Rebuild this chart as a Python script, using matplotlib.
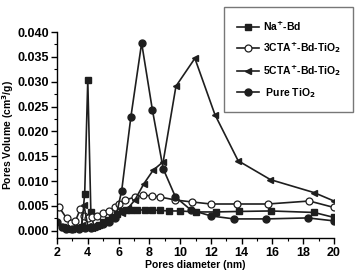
import matplotlib
matplotlib.use("Agg")
import matplotlib.pyplot as plt
from matplotlib.ticker import MultipleLocator

# Pore size distribution (pore diameter in nm, pore volume in cm3/g)
na_x = [2.4, 2.7, 3.0, 3.3, 3.6, 3.8, 4.0, 4.2, 4.4, 4.7, 5.0, 5.3, 5.6, 5.9,
        6.2, 6.5, 6.8, 7.2, 7.7, 8.2, 8.7, 9.3, 10.0, 11.0, 12.3, 13.8, 15.9,
        18.7, 20.0]
na_y = [0.0007, 0.0006, 0.0004, 0.0005, 0.0008, 0.0075, 0.0303, 0.0038,
        0.0008, 0.0012, 0.0017, 0.0022, 0.0028, 0.0034, 0.0039, 0.0042,
        0.0042, 0.0042, 0.0042, 0.0042, 0.0041, 0.0040, 0.0040, 0.0038,
        0.0038, 0.0039, 0.0040, 0.0037, 0.0027]

cta3_x = [2.15, 2.63, 2.9, 3.2, 3.5, 3.75, 4.0, 4.3, 4.6, 5.0, 5.4, 5.8, 6.0,
          6.4, 7.1, 7.6, 8.2, 8.7, 9.7, 10.8, 12.0, 13.7, 15.7, 18.4, 20.0]
cta3_y = [0.0047, 0.0025, 0.0016, 0.0020, 0.0043, 0.0030, 0.0025, 0.0028,
          0.0030, 0.0035, 0.0040, 0.0048, 0.0055, 0.0062, 0.0068, 0.0072,
          0.0070, 0.0068, 0.0062, 0.0058, 0.0054, 0.0054, 0.0054, 0.0060,
          0.0047]

cta5_x = [2.3, 2.6, 3.0, 3.3, 3.6, 3.75, 4.0, 4.3, 4.6, 5.0, 5.4, 5.8, 6.2,
          6.6, 7.06, 7.65, 8.25, 8.9, 9.73, 10.96, 12.26, 13.77, 15.87,
          18.7, 20.0]
cta5_y = [0.0008, 0.0005, 0.0004, 0.0008, 0.0012, 0.0052, 0.0010, 0.0006,
          0.0010, 0.0015, 0.0020, 0.0027, 0.0035, 0.0045, 0.0062, 0.0095,
          0.0122, 0.0139, 0.0291, 0.0347, 0.0234, 0.0141, 0.0103, 0.0077,
          0.0060]

tio2_x = [2.0, 2.3, 2.6, 3.0, 3.4, 3.8, 4.2, 4.6, 5.0, 5.4, 5.8, 6.2, 6.8,
          7.5, 8.2, 8.9, 9.7, 10.7, 12.0, 13.5, 15.6, 18.3, 20.0]
tio2_y = [0.0018, 0.0008, 0.0004, 0.0003, 0.0004, 0.0005, 0.0006, 0.0009,
          0.0013, 0.0018, 0.0025, 0.0080, 0.0229, 0.0378, 0.0243, 0.0125,
          0.0068, 0.0042, 0.0030, 0.0024, 0.0024, 0.0026, 0.0020]

plt.rcParams.update({
    "font.family": ["Liberation Sans", "DejaVu Sans"],
    "font.weight": "bold",
    "axes.labelweight": "bold",
    "axes.linewidth": 1.0,
})

INK = "#1e1e1e"

fig = plt.figure(figsize=(3.57, 2.71), dpi=100)
ax = fig.add_axes([57 / 357, 1 - 238.3 / 271, (334 - 57) / 357, (238.3 - 32) / 271])

kw = dict(color=INK, lw=1.2)
ax.plot(na_x, na_y, marker="s", ms=4.2, mfc=INK, mec=INK, label="Na$^{+}$-Bd", **kw)
ax.plot(cta3_x, cta3_y, marker="o", ms=5.0, mfc="white", mec=INK, mew=0.9,
        label="3CTA$^{+}$-Bd-TiO$_{2}$", **kw)
ax.plot(cta5_x, cta5_y, marker="<", ms=5.0, mfc=INK, mec=INK,
        label="5CTA$^{+}$-Bd-TiO$_{2}$", **kw)
ax.plot(tio2_x, tio2_y, marker="o", ms=5.0, mfc=INK, mec=INK,
        label=" Pure TiO$_{2}$", **kw)

ax.set_xlim(2, 20)
ax.set_ylim(-0.0015, 0.040)
ax.spines["top"].set_visible(False)
ax.spines["right"].set_visible(False)

ax.xaxis.set_major_locator(MultipleLocator(2))
ax.xaxis.set_minor_locator(MultipleLocator(1))
ax.yaxis.set_minor_locator(MultipleLocator(0.0025))
ax.tick_params(which="major", length=4, width=1.0, labelsize=9, pad=2)
ax.tick_params(which="minor", length=2, width=0.8)
yt = [0.000, 0.005, 0.010, 0.015, 0.020, 0.025, 0.030, 0.035, 0.040]
ax.set_yticks(yt)
ax.set_yticklabels([f"{v:.3f}" for v in yt])
for lab in ax.get_xticklabels() + ax.get_yticklabels():
    lab.set_fontweight("bold")

ax.set_xlabel("Pores diameter (nm)", fontsize=7.5, labelpad=1)
ax.set_ylabel("Pores Volume (cm$^{3}$/g)", fontsize=7.5, labelpad=1)

leg = fig.legend(loc="upper left", bbox_to_anchor=(224 / 357, 1 - 7 / 271),
                 frameon=True, fancybox=False, edgecolor="#555555",
                 handlelength=2.2, handletextpad=0.3, labelspacing=0.75,
                 borderpad=1.2, borderaxespad=0,
                 prop={"weight": "bold", "size": 7.5})
leg.get_frame().set_linewidth(1.0)

fig.savefig("out.png", dpi=100)
